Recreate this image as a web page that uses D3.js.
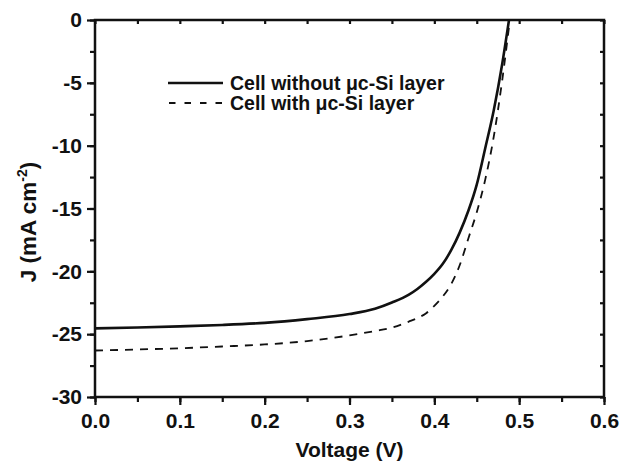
<!DOCTYPE html>
<html>
<head>
<meta charset="utf-8">
<title>J-V curves</title>
<script src="https://d3js.org/d3.v7.min.js"></script>
<style>
  body { margin: 0; background: #fff; }
  svg { display: block; font-family: "Liberation Sans", Arial, sans-serif; }
  .axis path { display: none; }
  .axis line { stroke: #111; stroke-width: 2.2; }
  .axis text { font-size: 21px; font-weight: bold; fill: #111; }
</style>
</head>
<body>
<svg id="chart" width="631" height="466"></svg>
<script>
// values
var voltNo = [0, 0.05, 0.1, 0.15, 0.2, 0.25, 0.3, 0.33, 0.35, 0.37, 0.38, 0.39, 0.40, 0.41, 0.42, 0.43, 0.44, 0.45, 0.46, 0.47, 0.48, 0.488];
var jNo    = [-24.54, -24.47, -24.38, -24.27, -24.10, -23.80, -23.40, -22.98, -22.48, -21.85, -21.40, -20.85, -20.20, -19.40, -18.30, -16.90, -15.20, -13.10, -10.20, -7.20, -3.50, 0];

var voltWith = [0, 0.05, 0.1, 0.15, 0.2, 0.25, 0.3, 0.33, 0.35, 0.37, 0.38, 0.39, 0.40, 0.41, 0.42, 0.43, 0.44, 0.45, 0.46, 0.47, 0.48, 0.489];
var jWith    = [-26.30, -26.22, -26.12, -25.98, -25.82, -25.55, -25.10, -24.75, -24.48, -24.00, -23.72, -23.35, -22.75, -22.00, -21.00, -19.50, -17.40, -15.30, -12.70, -9.30, -4.80, 0];

var xTicks = [0, 0.1, 0.2, 0.3, 0.4, 0.5, 0.6];
var yTicks = [0, -5, -10, -15, -20, -25, -30];
var seriesNames = ["Cell without \u03bcc-Si layer", "Cell with \u03bcc-Si layer"];

var svg = d3.select("#chart");
var plotL = 95, plotR = 604, plotT = 20, plotB = 397;

var x = d3.scaleLinear().domain([0, 0.6]).range([plotL, plotR]);
var y = d3.scaleLinear().domain([-30, 0]).range([plotB, plotT]);

var minorX = d3.range(0, 0.601, 0.05);
var minorY = d3.range(-30, 0.01, 2.5);

// minor ticks (outward on left / bottom, inward on top / right)
svg.append("g").attr("class", "axis")
  .attr("transform", "translate(0," + plotB + ")")
  .call(d3.axisBottom(x).tickValues(minorX).tickSize(5).tickFormat(""));
svg.append("g").attr("class", "axis")
  .attr("transform", "translate(" + plotL + ",0)")
  .call(d3.axisLeft(y).tickValues(minorY).tickSize(5).tickFormat(""));
svg.append("g").attr("class", "axis")
  .attr("transform", "translate(0," + plotT + ")")
  .call(d3.axisTop(x).tickValues(minorX).tickSize(-4).tickFormat(""));
svg.append("g").attr("class", "axis")
  .attr("transform", "translate(" + plotR + ",0)")
  .call(d3.axisRight(y).tickValues(minorY).tickSize(-4).tickFormat(""));

// major ticks with labels
svg.append("g").attr("class", "axis")
  .attr("transform", "translate(0," + plotB + ")")
  .call(d3.axisBottom(x).tickValues(xTicks).tickSize(8).tickPadding(8).tickFormat(d3.format(".1f")));
svg.append("g").attr("class", "axis")
  .attr("transform", "translate(" + plotL + ",0)")
  .call(d3.axisLeft(y).tickValues(yTicks).tickSize(8).tickPadding(5).tickFormat(function(d){ return String(d); }));

// frame
svg.append("rect")
  .attr("x", plotL).attr("y", plotT)
  .attr("width", plotR - plotL).attr("height", plotB - plotT)
  .attr("fill", "none").attr("stroke", "#111").attr("stroke-width", 2.5);

// curves
var line = d3.line()
  .x(function(d){ return x(d[0]); })
  .y(function(d){ return y(d[1]); })
  .curve(d3.curveMonotoneX);

svg.append("path")
  .datum(d3.zip(voltNo, jNo))
  .attr("d", line)
  .attr("fill", "none").attr("stroke", "#111").attr("stroke-width", 2.6);

svg.append("path")
  .datum(d3.zip(voltWith, jWith))
  .attr("d", line)
  .attr("fill", "none").attr("stroke", "#111").attr("stroke-width", 1.8)
  .attr("stroke-dasharray", "8,7");

// legend
var legend = svg.append("g");
legend.append("line").attr("x1", 168).attr("x2", 223).attr("y1", 83).attr("y2", 83)
  .attr("stroke", "#111").attr("stroke-width", 2.6);
legend.append("line").attr("x1", 169).attr("x2", 223).attr("y1", 103).attr("y2", 103)
  .attr("stroke", "#111").attr("stroke-width", 1.8).attr("stroke-dasharray", "6.5,9");
legend.append("text").attr("x", 230).attr("y", 89.5).text(seriesNames[0])
  .attr("font-size", "19.5px").attr("font-weight", "bold").attr("fill", "#111");
legend.append("text").attr("x", 230).attr("y", 109.5).text(seriesNames[1])
  .attr("font-size", "19.5px").attr("font-weight", "bold").attr("fill", "#111");

// axis titles
svg.append("text")
  .attr("x", (plotL + plotR) / 2).attr("y", 457)
  .attr("text-anchor", "middle")
  .attr("font-size", "21px").attr("font-weight", "bold").attr("fill", "#111")
  .text("Voltage (V)");

var yt = svg.append("text")
  .attr("transform", "translate(36,222) rotate(-90)")
  .attr("text-anchor", "middle")
  .attr("font-size", "22.5px").attr("font-weight", "bold").attr("fill", "#111");
yt.append("tspan").text("J (mA cm");
yt.append("tspan").attr("font-size", "14px").attr("dy", -9).text("-2");
yt.append("tspan").attr("dy", 9).text(")");
</script>
</body>
</html>
